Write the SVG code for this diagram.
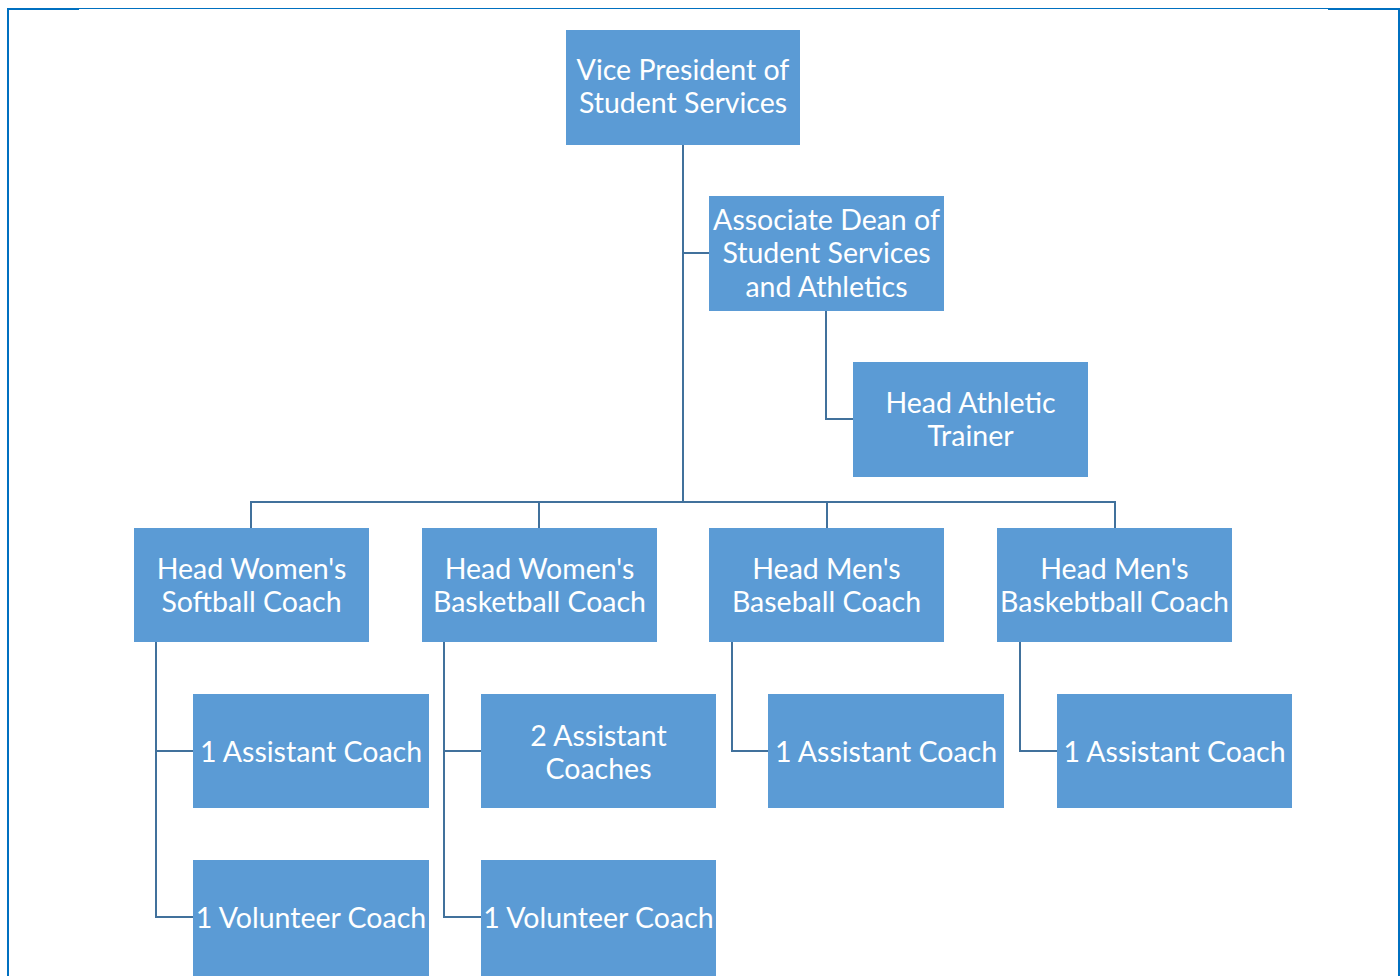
<svg xmlns="http://www.w3.org/2000/svg" width="1400" height="976" viewBox="0 0 1400 976">
<style>
.box{fill:#5B9BD5;}
.t{font-family:Lato,"Open Sans",sans-serif;font-size:28.5px;fill:#FFFFFF;text-anchor:middle;dominant-baseline:central;}
.c{fill:none;stroke:#41719C;stroke-width:2;}
.f{fill:none;stroke:#0070C0;}
</style>
<rect width="1400" height="976" fill="#FFFFFF"/>
<g id="frame">
<line class="f" x1="8" y1="8" x2="8" y2="976" stroke-width="2"/>
<line class="f" x1="7" y1="9" x2="79" y2="9" stroke-width="2"/>
<line class="f" x1="79" y1="8.5" x2="1328" y2="8.5" stroke-width="1"/>
<line class="f" x1="1328" y1="9" x2="1400" y2="9" stroke-width="2"/>
<line class="f" x1="1399" y1="8" x2="1399" y2="976" stroke-width="2"/>
</g>
<g id="connectors">
<path class="c" d="M683 145V502M683 253H709M826 311V419H853M251 528V502H1115V528M539 502V528M827 502V528"/>
<path class="c" d="M156 642V917H193M156 751H193M444 642V917H481M444 751H481M732 642V751H768M1020 642V751H1057"/>
</g>
<g id="vp"><rect class="box" x="566" y="30" width="234" height="115"/><text class="t" x="683" y="69">Vice President of</text><text class="t" x="683" y="102">Student Services</text></g>
<g id="dean"><rect class="box" x="709" y="196" width="235" height="115"/><text class="t" x="826.5" y="219">Associate Dean of</text><text class="t" x="826.5" y="252">Student Services</text><text class="t" x="826.5" y="286">and Athletics</text></g>
<g id="trainer"><rect class="box" x="853" y="362" width="235" height="115"/><text class="t" x="970.5" y="402">Head Athletic</text><text class="t" x="970.5" y="435">Trainer</text></g>
<g id="softball"><rect class="box" x="134" y="528" width="235" height="114"/><text class="t" x="251.5" y="568">Head Women's</text><text class="t" x="251.5" y="601">Softball Coach</text></g>
<g id="wbasketball"><rect class="box" x="422" y="528" width="235" height="114"/><text class="t" x="539.5" y="568">Head Women's</text><text class="t" x="539.5" y="601">Basketball Coach</text></g>
<g id="baseball"><rect class="box" x="709" y="528" width="235" height="114"/><text class="t" x="826.5" y="568">Head Men's</text><text class="t" x="826.5" y="601">Baseball Coach</text></g>
<g id="mbasketball"><rect class="box" x="997" y="528" width="235" height="114"/><text class="t" x="1114.5" y="568">Head Men's</text><text class="t" x="1114.5" y="601">Baskebtball Coach</text></g>
<g id="sb-asst"><rect class="box" x="193" y="694" width="236" height="114"/><text class="t" x="311" y="751">1 Assistant Coach</text></g>
<g id="wb-asst"><rect class="box" x="481" y="694" width="235" height="114"/><text class="t" x="598.5" y="735">2 Assistant</text><text class="t" x="598.5" y="768">Coaches</text></g>
<g id="bb-asst"><rect class="box" x="768" y="694" width="236" height="114"/><text class="t" x="886" y="751">1 Assistant Coach</text></g>
<g id="mb-asst"><rect class="box" x="1057" y="694" width="235" height="114"/><text class="t" x="1174.5" y="751">1 Assistant Coach</text></g>
<g id="sb-vol"><rect class="box" x="193" y="860" width="236" height="116"/><text class="t" x="311" y="917">1 Volunteer Coach</text></g>
<g id="wb-vol"><rect class="box" x="481" y="860" width="235" height="116"/><text class="t" x="598.5" y="917">1 Volunteer Coach</text></g>
</svg>
